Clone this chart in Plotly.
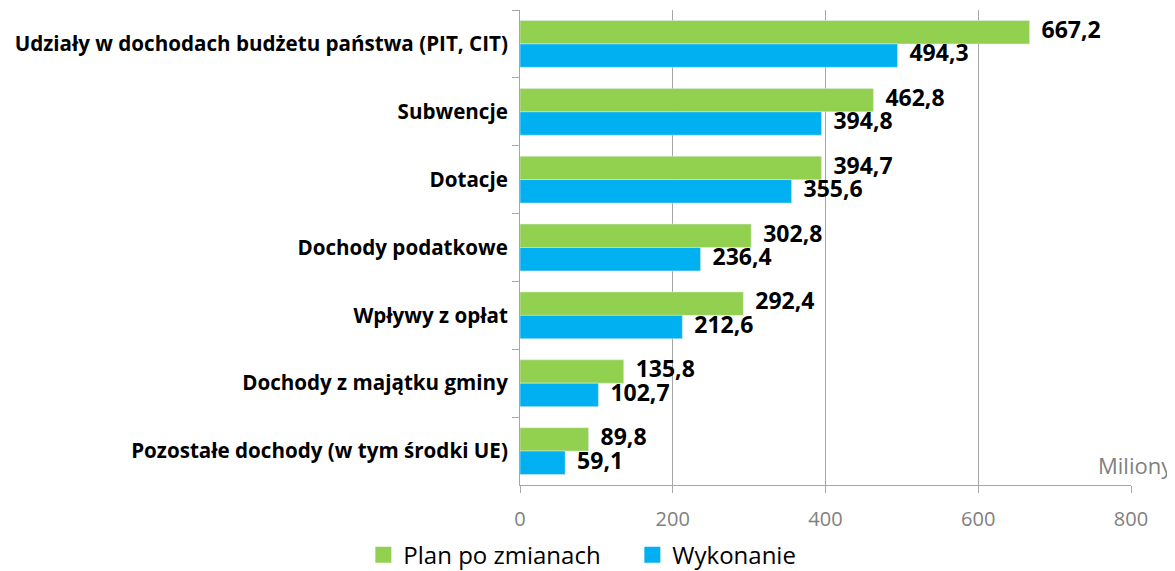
import plotly.graph_objects as go

categories = [
    "Udziały w dochodach budżetu państwa (PIT, CIT)",
    "Subwencje",
    "Dotacje",
    "Dochody podatkowe",
    "Wpływy z opłat",
    "Dochody z majątku gminy",
    "Pozostałe dochody (w tym środki UE)",
]
plan = [667.2, 462.8, 394.7, 302.8, 292.4, 135.8, 89.8]
wykonanie = [494.3, 394.8, 355.6, 236.4, 212.6, 102.7, 59.1]
series_names = ["Plan po zmianach", "Wykonanie"]
series_colors = ["#92D050", "#00B0F0"]
x_ticks = [0, 200, 400, 600, 800]

FONT = "'Open Sans', sans-serif"

def fmt(v):
    return "\u00a0\u00a0" + f"{v:.1f}".replace(".", ",")

fig = go.Figure()
for name, vals, col in zip(series_names, [plan, wykonanie], series_colors):
    fig.add_trace(go.Bar(
        y=categories, x=vals, name=name, orientation="h",
        marker=dict(color=col), showlegend=False,
        hovertemplate="%{y}: %{x}<extra>" + name + "</extra>",
    ))
# value labels, grouped the same way as the bars
for name, vals in zip(series_names, [plan, wykonanie]):
    fig.add_trace(go.Scatter(
        y=categories, x=vals, orientation="h", mode="text",
        text=[fmt(v) for v in vals], textposition="middle right",
        textfont=dict(family=FONT, size=23, color="#000000", weight="bold"),
        showlegend=False, hoverinfo="skip", cliponaxis=False,
    ))
# legend entries with larger square swatches
for name, col in zip(series_names, series_colors):
    fig.add_trace(go.Scatter(
        x=[None], y=[None], mode="markers", name=name,
        marker=dict(symbol="square", size=16, color=col),
        showlegend=True,
    ))

fig.update_layout(
    width=1167, height=563,
    margin=dict(l=512, r=44, t=2, b=86, autoexpand=False),
    barmode="group", bargap=0.31, bargroupgap=0.0,
    scattermode="group", scattergap=0.31,
    plot_bgcolor="white", paper_bgcolor="white",
    font=dict(family=FONT, color="#000000"),
    legend=dict(
        orientation="h", x=0.535, xanchor="center", xref="container",
        y=0.028, yref="container", yanchor="middle",
        font=dict(family=FONT, size=24, color="#000000"),
        entrywidth=224, itemwidth=30, traceorder="normal",
    ),
    showlegend=True,
)
fig.update_xaxes(
    range=[0, 800], tickvals=x_ticks, ticktext=[str(t) for t in x_ticks],
    showgrid=True, gridcolor="#A6A6A6", gridwidth=1,
    showline=True, linecolor="#A6A6A6", linewidth=1,
    ticks="outside", ticklen=7, tickcolor="#A6A6A6",
    tickfont=dict(family=FONT, size=20, color="#808080"),
    ticklabelstandoff=9,
    zeroline=False,
)
fig.update_yaxes(
    autorange="reversed", showgrid=False,
    showline=True, linecolor="#A6A6A6", linewidth=1,
    ticks="outside", ticklen=7, tickcolor="#A6A6A6", tickson="boundaries",
    tickfont=dict(family=FONT, size=20.6, color="#000000", weight="bold"),
    ticklabelstandoff=7,
)
fig.add_annotation(
    x=1, xref="paper", y=0.042, yref="paper", text="Miliony",
    showarrow=False, xanchor="right", yanchor="middle", xshift=44,
    font=dict(family=FONT, size=22, color="#808080"),
    bgcolor="white",
)
fig.write_html("out.html")
